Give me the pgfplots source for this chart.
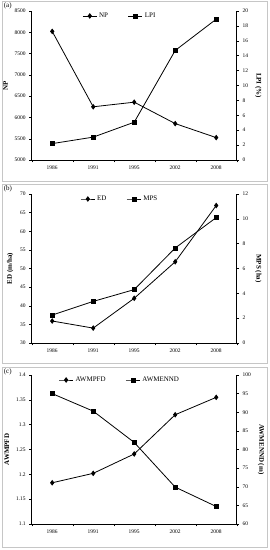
\documentclass[border=0pt]{standalone}
\usepackage{pgfplots}
\pgfplotsset{compat=1.18}
\usepackage{fontspec}
\setmainfont{Liberation Serif}
\pgfplotsset{
 base/.style={
  scale only axis, width=205bp, height=149bp,
  xmin=-0.5, xmax=4.5,
  font=\fontsize{5.5}{6}\selectfont,
  /pgf/number format/assume math mode=true,
  /pgf/number format/1000 sep={},
  tick style={black, line width=0.4pt},
  major tick length=2.5bp,
  tick align=outside,
  axis line style={black, line width=0.5pt},
  every axis plot/.append style={black, line width=0.8pt},
  ylabel style={font=\fontsize{7}{8}\selectfont\bfseries},
  anchor=south west,
 },
 leftax/.style={base, axis y line*=left, axis x line*=bottom,
  xtick={-0.5,0.5,...,4.5}, xticklabels={},
  extra x ticks={0,1,2,3,4},
  extra x tick labels={1986,1991,1995,2002,2008},
  extra x tick style={major tick length=0pt},
  xticklabel style={yshift=-2bp},
 },
 rightax/.style={base, axis y line*=right, axis x line=none,
  ylabel style={rotate=180},
  legend style={at={(axis description cs:0.43,1.015)}, anchor=north, draw=none, fill=none,
   legend columns=2, font=\fontsize{7}{8}\selectfont,
   /tikz/every even column/.append style={column sep=18bp}},
  legend image code/.code={\draw[mark repeat=2,mark phase=2,##1] plot coordinates {(0bp,0bp)(7bp,0bp)(14bp,0bp)};},
 },
 m1/.style={mark=diamond*, mark size=2.2bp},
 m2/.style={mark=square*, mark size=2bp},
}
\begin{document}
\begin{tikzpicture}
\path (0,0) rectangle (268bp,550bp);
\draw[gray!45, line width=0.6pt] (1bp,369bp) rectangle (266bp,549bp);
\draw[gray!45, line width=0.6pt] (1bp,187bp) rectangle (266bp,366bp);
\draw[gray!45, line width=0.6pt] (1bp,3bp) rectangle (266bp,183bp);
% (a)
\begin{axis}[leftax, at={(30bp,390bp)}, ymin=5000, ymax=8500, ytick={5000,5500,...,8500}, ylabel={NP}]
\addplot[m1] coordinates {(0,8021) (1,6250) (2,6358) (3,5855) (4,5526)};
\end{axis}
\begin{axis}[rightax, at={(30bp,390bp)}, ymin=0, ymax=20, ytick={0,2,...,20}, ylabel={LPI (\%)}]
\addlegendimage{black, line width=0.8pt, m1}
\addlegendentry{NP}
\addplot[m2] coordinates {(0,2.2) (1,3.07) (2,5.07) (3,14.7) (4,18.9)};
\addlegendentry{LPI}
\end{axis}
\node[anchor=west, font=\fontsize{7}{8}\selectfont, inner sep=0] at (2bp,544bp) {(a)};
% (b)
\begin{axis}[leftax, at={(30bp,207bp)}, ymin=30, ymax=70, ytick={30,35,...,70}, ylabel={ED (m/ha)}]
\addplot[m1] coordinates {(0,35.9) (1,34.0) (2,42.0) (3,51.8) (4,66.9)};
\end{axis}
\begin{axis}[rightax, at={(30bp,207bp)}, ymin=0, ymax=12, ytick={0,2,...,12}, ylabel={MPS (ha)}]
\addlegendimage{black, line width=0.8pt, m1}
\addlegendentry{ED}
\addplot[m2] coordinates {(0,2.25) (1,3.35) (2,4.3) (3,7.65) (4,10.1)};
\addlegendentry{MPS}
\end{axis}
\node[anchor=west, font=\fontsize{7}{8}\selectfont, inner sep=0] at (2bp,361bp) {(b)};
% (c)
\begin{axis}[leftax, at={(30bp,26bp)}, ymin=1.1, ymax=1.4, ytick={1.1,1.15,1.2,1.25,1.3,1.35,1.4}, ylabel={AWMPFD},
  yticklabel style={/pgf/number format/precision=2}]
\addplot[m1] coordinates {(0,1.183) (1,1.202) (2,1.241) (3,1.320) (4,1.355)};
\end{axis}
\begin{axis}[rightax, at={(30bp,26bp)}, ymin=60, ymax=100, ytick={60,65,...,100}, ylabel={AWMENND (m)}]
\addlegendimage{black, line width=0.8pt, m1}
\addlegendentry{AWMPFD}
\addplot[m2] coordinates {(0,95.0) (1,90.3) (2,81.9) (3,69.9) (4,64.7)};
\addlegendentry{AWMENND}
\end{axis}
\node[anchor=west, font=\fontsize{7}{8}\selectfont, inner sep=0] at (2bp,178bp) {(c)};
\end{tikzpicture}
\end{document}
